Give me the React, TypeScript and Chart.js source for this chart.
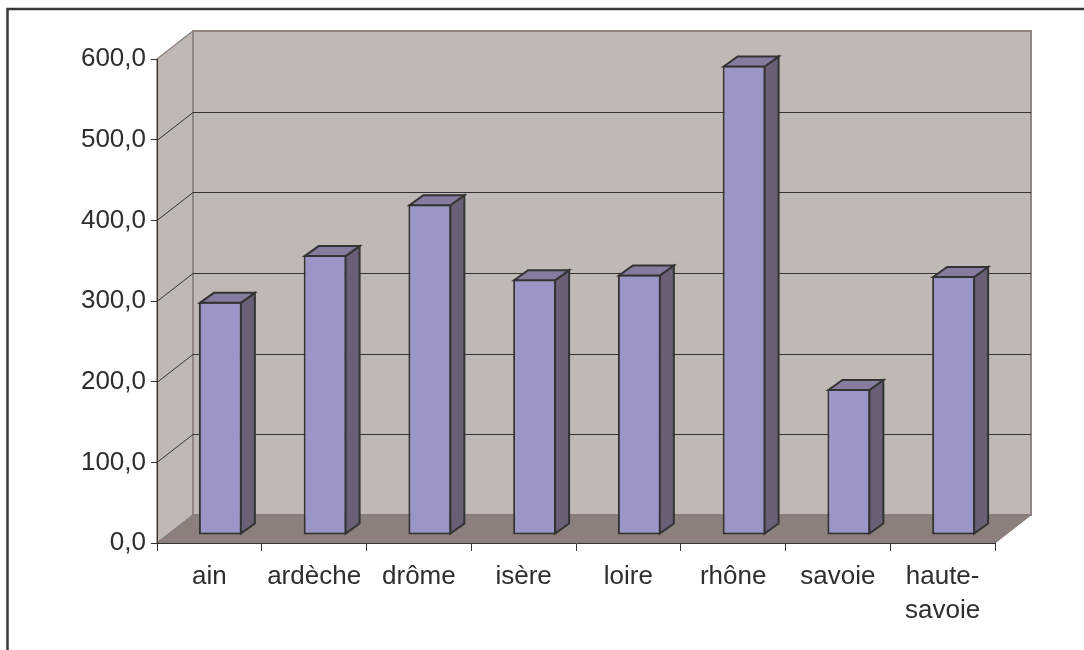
import { useEffect, useRef } from "react";
import { Chart, registerables } from "chart.js";

Chart.register(...registerables);

// Departments and their values
const categories: (string | string[])[] = [
  "ain",
  "ardèche",
  "drôme",
  "isère",
  "loire",
  "rhône",
  "savoie",
  ["haute-", "savoie"],
];
const values = [289, 347, 410, 317, 323, 582, 181, 321];
const yTickValues = [0, 100, 200, 300, 400, 500, 600];

// 3D look: depth of the walls, bar plane shift and bar depth (pixels)
const WALL_DX = 36;
const WALL_DY = -28;
const BAR_SHIFT_X = 11;
const BAR_SHIFT_Y = -8;
const BAR_DX = 14;
const BAR_DY = -10;

const FONT_FAMILY = "'Liberation Sans', Arial, Helvetica, sans-serif";
const TEXT_COLOR = "#2e2e2e";
const LINE_COLOR = "#333333";
const WALL_COLOR = "#c0b8b5";
const FLOOR_COLOR = "#8c807d";
const WALL_EDGE = "#8f8683";
const BAR_FRONT = "#9a96c8";
const BAR_SIDE = "#6b5f76";
const BAR_TOP = "#867c9f";

const roomPlugin = {
  id: "room3d",
  beforeDraw(chart: any) {
    const { ctx, chartArea, scales } = chart;
    const { left, right, top, bottom } = chartArea;
    const y = scales.y;
    ctx.save();
    ctx.fillStyle = "#ffffff";
    ctx.fillRect(0, 0, chart.width, chart.height);

    // outer frame
    ctx.strokeStyle = "#3a3a3a";
    ctx.lineWidth = 2.5;
    ctx.strokeRect(7.5, 9, chart.width + 20, chart.height + 20);

    // left wall
    ctx.fillStyle = WALL_COLOR;
    ctx.beginPath();
    ctx.moveTo(left, top);
    ctx.lineTo(left + WALL_DX, top + WALL_DY);
    ctx.lineTo(left + WALL_DX, bottom + WALL_DY);
    ctx.lineTo(left, bottom);
    ctx.closePath();
    ctx.fill();
    ctx.strokeStyle = WALL_EDGE;
    ctx.lineWidth = 1.5;
    ctx.stroke();

    // back wall
    ctx.fillStyle = WALL_COLOR;
    ctx.fillRect(left + WALL_DX, top + WALL_DY, right - left, bottom - top);
    ctx.strokeStyle = WALL_EDGE;
    ctx.lineWidth = 2;
    ctx.strokeRect(left + WALL_DX, top + WALL_DY, right - left, bottom - top);

    // floor
    ctx.fillStyle = FLOOR_COLOR;
    ctx.beginPath();
    ctx.moveTo(left, bottom);
    ctx.lineTo(right, bottom);
    ctx.lineTo(right + WALL_DX, bottom + WALL_DY);
    ctx.lineTo(left + WALL_DX, bottom + WALL_DY);
    ctx.closePath();
    ctx.fill();
    ctx.strokeStyle = "#847874";
    ctx.lineWidth = 1;
    ctx.stroke();

    // grid lines on the left and back walls
    ctx.strokeStyle = LINE_COLOR;
    ctx.lineWidth = 1;
    for (const v of yTickValues) {
      if (v === 0 || v === 600) continue;
      const py = Math.round(y.getPixelForValue(v)) + 0.5;
      ctx.beginPath();
      ctx.moveTo(left, py);
      ctx.lineTo(left + WALL_DX, py + WALL_DY);
      ctx.lineTo(right + WALL_DX, py + WALL_DY);
      ctx.stroke();
    }
    ctx.restore();
  },
  beforeDatasetsDraw(chart: any) {
    chart.ctx.save();
    chart.ctx.translate(BAR_SHIFT_X, BAR_SHIFT_Y);
  },
  afterDatasetsDraw(chart: any) {
    const ctx = chart.ctx;
    const meta = chart.getDatasetMeta(0);
    ctx.lineWidth = 2;
    ctx.lineJoin = "miter";
    ctx.strokeStyle = LINE_COLOR;
    for (const el of meta.data) {
      const { x, y, base, width } = el.getProps(["x", "y", "base", "width"], true);
      const l = x - width / 2 + 1;
      const r = x + width / 2 - 1;
      const t = y + 1;
      const b = base - 1;
      // side face
      ctx.fillStyle = BAR_SIDE;
      ctx.beginPath();
      ctx.moveTo(r, t);
      ctx.lineTo(r + BAR_DX, t + BAR_DY);
      ctx.lineTo(r + BAR_DX, b + BAR_DY);
      ctx.lineTo(r, b);
      ctx.closePath();
      ctx.fill();
      ctx.stroke();
      // top face
      ctx.fillStyle = BAR_TOP;
      ctx.beginPath();
      ctx.moveTo(l, t);
      ctx.lineTo(l + BAR_DX, t + BAR_DY);
      ctx.lineTo(r + BAR_DX, t + BAR_DY);
      ctx.lineTo(r, t);
      ctx.closePath();
      ctx.fill();
      ctx.stroke();
    }
    ctx.restore();
  },
};

export default function App() {
  const canvasRef = useRef<HTMLCanvasElement | null>(null);

  useEffect(() => {
    if (!canvasRef.current) return;
    const font = { family: FONT_FAMILY, size: 26 };
    const chart = new Chart(canvasRef.current, {
      type: "bar",
      data: {
        labels: categories as any,
        datasets: [
          {
            data: values,
            backgroundColor: BAR_FRONT,
            borderColor: LINE_COLOR,
            borderWidth: 2,
            borderSkipped: false,
            barPercentage: 0.41,
            categoryPercentage: 1,
            clip: false as any,
          },
        ],
      },
      options: {
        animation: false,
        responsive: true,
        maintainAspectRatio: false,
        events: [],
        layout: { padding: { left: 0, top: 59, right: 89, bottom: 17 } },
        plugins: {
          legend: { display: false },
          tooltip: { enabled: false },
          title: { display: false },
        },
        scales: {
          x: {
            offset: true,
            grid: {
              offset: true,
              drawOnChartArea: false,
              tickLength: 8,
              tickColor: LINE_COLOR,
              color: LINE_COLOR,
            },
            border: { display: true, color: LINE_COLOR, width: 1 },
            ticks: {
              font: { ...font, lineHeight: 1.3 },
              color: TEXT_COLOR,
              padding: 9,
              maxRotation: 0,
              autoSkip: false,
            },
            afterFit: (s: any) => {
              s.height = 90;
            },
          },
          y: {
            min: 0,
            max: 600,
            afterBuildTicks: (s: any) => {
              s.ticks = yTickValues.map((v) => ({ value: v }));
            },
            ticks: {
              font,
              color: TEXT_COLOR,
              padding: 5,
              callback: (v: any) => Number(v).toFixed(1).replace(".", ","),
            },
            grid: {
              drawOnChartArea: false,
              tickLength: 6,
              tickColor: LINE_COLOR,
              color: LINE_COLOR,
            },
            border: { display: true, color: LINE_COLOR, width: 1 },
            afterFit: (s: any) => {
              s.width = 157;
            },
          },
        },
      },
      plugins: [roomPlugin],
    });
    return () => chart.destroy();
  }, []);

  return (
    <div style={{ position: "absolute", left: 0, top: 0, width: 1084, height: 650 }}>
      <canvas ref={canvasRef} />
    </div>
  );
}
